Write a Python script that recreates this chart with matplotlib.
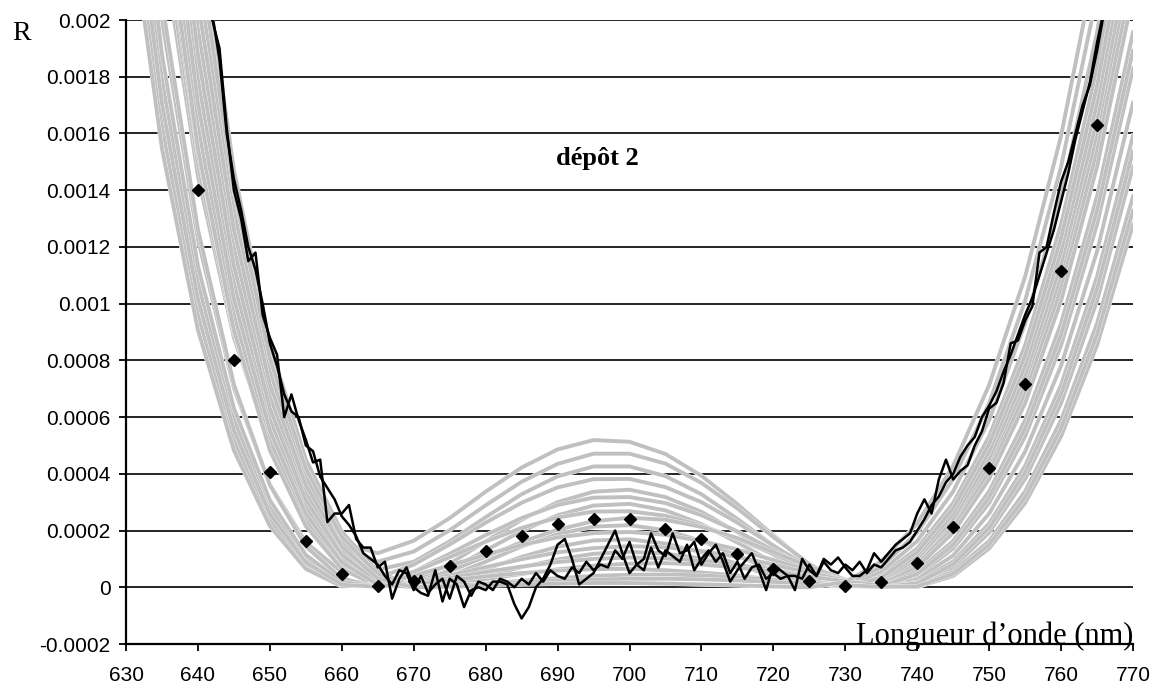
import matplotlib
matplotlib.use('Agg')
import matplotlib.pyplot as plt
import matplotlib.patheffects as pe
import numpy as np

# values of R are given in units of 1e-4
SCALE = 1e-4

# grey family of simulated curves, sampled every 5 nm
wl_grey = [630, 635, 640, 645, 650, 655, 660, 665, 670, 675, 680, 685, 690, 695, 700,
           705, 710, 715, 720, 725, 730, 735, 740, 745, 750, 755, 760, 765, 770]

grey_01 = [34.6, 22.8, 14.5, 8.8, 5.08, 2.8, 1.58, 1.2, 1.64, 2.44, 3.37, 4.22, 4.86, 5.19, 5.13,
           4.70, 3.93, 2.93, 1.83, 0.80, 0.07, 0.18, 0.91, 2.25, 4.28, 7.13, 10.95, 15.92, 22.28]
grey_02 = [35.7, 23.5, 14.9, 8.97, 5.08, 2.68, 1.36, 0.90, 1.26, 2.01, 2.89, 3.72, 4.35, 4.71, 4.71,
           4.36, 3.68, 2.78, 1.77, 0.82, 0.10, 0.14, 0.81, 2.09, 4.05, 6.81, 10.52, 15.37, 21.58]
grey_03 = [36.8, 24.3, 15.3, 9.16, 5.1, 2.56, 1.15, 0.62, 0.90, 1.62, 2.47, 3.28, 3.91, 4.26, 4.26,
           3.92, 3.28, 2.41, 1.47, 0.60, 0.02, 0.22, 1.01, 2.42, 4.53, 7.47, 11.39, 16.49, 23.0]
grey_04 = [31.0, 20.0, 12.26, 7.02, 3.62, 1.58, 0.54, 0.33, 0.80, 1.51, 2.28, 2.98, 3.52, 3.81, 3.82,
           3.53, 3.0, 2.28, 1.47, 0.70, 0.11, 0.10, 0.71, 1.93, 3.82, 6.49, 10.1, 14.83, 20.89]
grey_05 = [39.28, 25.85, 16.25, 9.6, 5.17, 2.37, 0.76, 0.06, 0.20, 0.83, 1.62, 2.38, 3.0, 3.37, 3.44,
           3.18, 2.66, 1.94, 1.14, 0.43, 0.0, 0.28, 1.12, 2.6, 4.78, 7.81, 11.84, 17.08, 23.74]
grey_06 = [28.19, 17.91, 10.73, 5.91, 2.82, 1.0, 0.14, 0.09, 0.55, 1.18, 1.84, 2.44, 2.90, 3.16, 3.18,
           2.97, 2.54, 1.97, 1.31, 0.67, 0.16, 0.04, 0.55, 1.63, 3.38, 5.89, 9.3, 13.78, 19.56]
grey_07 = [42.51, 28.19, 17.91, 10.73, 5.91, 2.82, 1.0, 0.14, 0.10, 0.62, 1.30, 1.98, 2.54, 2.88, 2.94,
           2.71, 2.23, 1.58, 0.88, 0.27, 0.01, 0.40, 1.37, 2.97, 5.32, 8.53, 12.79, 18.29, 25.27]
grey_08 = [25.85, 16.25, 9.6, 5.17, 2.37, 0.76, 0.06, 0.13, 0.54, 1.06, 1.61, 2.09, 2.46, 2.67, 2.68,
           2.52, 2.18, 1.71, 1.17, 0.64, 0.20, 0.01, 0.40, 1.37, 2.97, 5.32, 8.53, 12.79, 18.29]
grey_09 = [37.73, 24.73, 15.47, 9.07, 4.83, 2.16, 0.65, 0.03, 0.16, 0.57, 1.08, 1.59, 2.03, 2.33, 2.45,
           2.38, 2.13, 1.73, 1.24, 0.73, 0.27, 0.0, 0.28, 1.12, 2.6, 4.78, 7.81, 11.84, 17.08]
grey_10 = [45.95, 30.7, 19.69, 11.96, 6.72, 3.32, 1.28, 0.24, 0.03, 0.39, 0.90, 1.44, 1.87, 2.14, 2.19,
           2.01, 1.63, 1.12, 0.58, 0.14, 0.04, 0.55, 1.63, 3.38, 5.89, 9.3, 13.78, 19.56, 26.87]
grey_11 = [24.73, 15.47, 9.07, 4.83, 2.16, 0.65, 0.03, 0.11, 0.41, 0.77, 1.15, 1.49, 1.76, 1.91, 1.95,
           1.85, 1.63, 1.33, 0.96, 0.58, 0.25, 0.02, 0.18, 0.91, 2.25, 4.28, 7.13, 10.95, 15.92]
grey_12 = [49.6, 33.38, 21.6, 13.28, 7.6, 3.88, 1.6, 0.38, 0.0, 0.24, 0.64, 1.07, 1.43, 1.65, 1.69,
           1.54, 1.23, 0.82, 0.39, 0.06, 0.10, 0.71, 1.93, 3.82, 6.49, 10.1, 14.83, 20.89, 28.54]
grey_13 = [32.02, 20.63, 12.61, 7.15, 3.6, 1.44, 0.31, 0.01, 0.17, 0.42, 0.71, 0.99, 1.23, 1.38, 1.45,
           1.41, 1.28, 1.07, 0.80, 0.51, 0.24, 0.04, 0.10, 0.71, 1.93, 3.82, 6.49, 10.1, 14.83]
grey_14 = [53.47, 36.24, 23.65, 14.71, 8.56, 4.5, 1.96, 0.55, 0.02, 0.12, 0.40, 0.71, 0.98, 1.18, 1.25,
           1.19, 1.01, 0.74, 0.43, 0.15, 0.0, 0.34, 1.24, 2.78, 5.05, 8.17, 12.31, 17.67, 24.5]
grey_15 = [29.43, 18.78, 11.33, 6.31, 3.07, 1.14, 0.19, 0.02, 0.15, 0.33, 0.54, 0.73, 0.89, 1.0, 1.05,
           1.02, 0.93, 0.79, 0.60, 0.39, 0.20, 0.05, 0.04, 0.55, 1.63, 3.38, 5.89, 9.3, 13.78]
grey_16 = [44.2, 29.43, 18.78, 11.33, 6.31, 3.07, 1.14, 0.19, 0.01, 0.13, 0.29, 0.47, 0.63, 0.76, 0.83,
           0.85, 0.80, 0.70, 0.55, 0.38, 0.21, 0.06, 0.01, 0.40, 1.37, 2.97, 5.32, 8.53, 12.79]
grey_17 = [27.0, 17.06, 10.16, 5.53, 2.59, 0.88, 0.09, 0.02, 0.12, 0.25, 0.38, 0.50, 0.59, 0.64, 0.65,
           0.60, 0.52, 0.41, 0.27, 0.14, 0.04, 0.03, 0.47, 1.5, 3.17, 5.6, 8.91, 13.28, 18.92]
grey_18 = [51.5, 34.79, 22.61, 13.98, 8.07, 4.18, 1.78, 0.46, 0.0, 0.04, 0.13, 0.23, 0.32, 0.40, 0.44,
           0.45, 0.42, 0.35, 0.27, 0.17, 0.08, 0.01, 0.14, 0.81, 2.09, 4.05, 6.81, 10.52, 15.37]
grey_19 = [40.87, 27.0, 17.06, 10.16, 5.53, 2.59, 0.88, 0.09, 0.01, 0.06, 0.11, 0.18, 0.23, 0.27, 0.30,
           0.30, 0.28, 0.24, 0.19, 0.13, 0.07, 0.02, 0.03, 0.47, 1.5, 3.17, 5.6, 8.91, 13.28]
grey_20 = [47.75, 32.02, 20.63, 12.61, 7.15, 3.6, 1.44, 0.31, 0.0, 0.02, 0.06, 0.10, 0.13, 0.15, 0.15,
           0.13, 0.10, 0.07, 0.03, 0.0, 0.18, 0.91, 2.25, 4.28, 7.13, 10.95, 15.92, 22.28, 30.29]

grey_curves = [grey_01, grey_02, grey_03, grey_04, grey_05, grey_06, grey_07, grey_08, grey_09, grey_10,
               grey_11, grey_12, grey_13, grey_14, grey_15, grey_16, grey_17, grey_18, grey_19, grey_20]

# two measured spectra, 1 nm step
wl_meas = list(range(641, 768))
meas_a = [21.5, 20.0, 19.0, 16.2, 14.0, 13.0, 11.5, 11.8, 9.6, 8.8,
          8.2, 6.0, 6.8, 5.9, 5.2, 4.4, 4.5, 2.3, 2.6, 2.6,
          2.9, 1.7, 1.4, 1.4, 0.7, 0.9, -0.4, 0.3, 0.7, 0.0,
          -0.2, -0.3, 0.6, -0.5, 0.3, 0.1, -0.7, -0.1, 0.0, -0.1,
          0.2, 0.2, 0.1, -0.6, -1.1, -0.7, 0.0, 0.3, 0.8, 1.5,
          1.7, 1.0, 0.1, 0.3, 0.5, 1.0, 1.5, 2.0, 1.2, 0.5,
          0.8, 1.0, 1.9, 1.3, 1.1, 1.9, 1.2, 1.3, 1.6, 0.8,
          1.2, 1.5, 0.9, 0.2, 0.6, 0.9, 1.2, 0.6, -0.1, 0.8,
          0.6, 0.4, -0.1, 1.0, 0.6, 0.4, 1.0, 0.8, 1.05, 0.7,
          0.4, 0.4, 0.6, 1.2, 0.9, 1.2, 1.5, 1.7, 1.9, 2.6,
          3.1, 2.6, 3.8, 4.5, 3.8, 4.1, 4.3, 5.0, 5.5, 6.3,
          6.5, 7.2, 8.6, 8.7, 9.4, 9.9, 11.8, 12.0, 13.2, 14.3,
          15.0, 16.0, 17.0, 17.7, 18.9, 20.3, 21.5]
meas_b = [21.0, 20.2, 18.6, 16.0, 14.4, 13.3, 12.0, 11.2, 10.0, 8.6,
          7.8, 6.8, 6.2, 6.0, 5.0, 4.8, 3.9, 3.5, 3.1, 2.5,
          2.2, 1.8, 1.2, 1.0, 0.8, 0.4, 0.1, 0.6, 0.5, -0.1,
          0.4, -0.2, 0.1, 0.3, -0.4, 0.4, 0.2, -0.3, 0.2, 0.1,
          -0.1, 0.3, 0.2, 0.0, 0.3, 0.1, 0.5, 0.2, 0.6, 0.4,
          0.3, 0.7, 0.5, 0.9, 0.6, 0.8, 0.7, 1.3, 1.0, 1.6,
          0.8, 0.6, 1.4, 0.7, 1.3, 1.1, 0.9, 1.5, 0.6, 1.0,
          1.3, 0.9, 1.2, 0.5, 0.9, 0.3, 0.7, 0.8, 0.3, 0.5,
          0.3, 0.4, 0.4, 0.3, 0.8, 0.4, 0.9, 0.6, 0.5, 0.8,
          0.6, 0.9, 0.5, 0.8, 0.7, 1.0, 1.3, 1.4, 1.6, 2.0,
          2.4, 2.9, 3.2, 3.7, 4.0, 4.6, 5.0, 5.3, 6.0, 6.4,
          6.9, 7.6, 8.2, 8.9, 9.6, 10.2, 11.0, 11.8, 12.6, 13.6,
          14.6, 15.8, 16.8, 17.8, 19.2, 20.4, 21.8]

# diamond markers
wl_diam = [640, 645, 650, 655, 660, 665, 670, 675, 680, 685, 690, 695, 700,
           705, 710, 715, 720, 725, 730, 735, 740, 745, 750, 755, 760, 765]
r_diam = [14.0, 8.0, 4.05, 1.63, 0.46, 0.05, 0.22, 0.75, 1.28, 1.81, 2.22, 2.4, 2.4,
          2.07, 1.69, 1.16, 0.63, 0.22, 0.05, 0.19, 0.87, 2.13, 4.22, 7.16, 11.16, 16.3]

x_ticks = [630, 640, 650, 660, 670, 680, 690, 700, 710, 720, 730, 740, 750, 760, 770]
y_ticks = [-0.0002, 0, 0.0002, 0.0004, 0.0006, 0.0008, 0.001, 0.0012, 0.0014, 0.0016, 0.0018, 0.002]
y_labels = ['-0.0002', '0', '0.0002', '0.0004', '0.0006', '0.0008', '0.001',
            '0.0012', '0.0014', '0.0016', '0.0018', '0.002']

sans = 'Liberation Sans'
serif = 'Liberation Serif'

fig = plt.figure(figsize=(11.6, 6.91), dpi=100)
ax = fig.add_axes([126/1160, 47/691, 1007/1160, 624/691])

halo = [pe.Stroke(linewidth=3.2, foreground='white'), pe.Normal()]
for curve in grey_curves:
    ax.plot(wl_grey, np.array(curve) * SCALE, color='#c0c0c0', lw=2.8,
            path_effects=halo, zorder=2)

ax.plot(wl_meas, np.array(meas_b) * SCALE, color='black', lw=1.8, zorder=3)
ax.plot(wl_meas, np.array(meas_a) * SCALE, color='black', lw=1.8, zorder=3)
ax.plot(wl_diam, np.array(r_diam) * SCALE, linestyle='none', marker='D',
        markersize=6.5, color='black', zorder=4)

ax.set_xlim(630, 770)
ax.set_ylim(-0.0002, 0.002)
ax.set_xticks(x_ticks)
ax.set_xticklabels([str(v) for v in x_ticks], fontfamily=sans, fontsize=15)
ax.set_yticks(y_ticks)
ax.set_yticklabels(y_labels, fontfamily=sans, fontsize=15)

ax.yaxis.grid(True, color='black', lw=1.2)
ax.set_axisbelow(True)
for s in ['top', 'right']:
    ax.spines[s].set_visible(False)
for s in ['left', 'bottom']:
    ax.spines[s].set_linewidth(1.6)
ax.tick_params(axis='x', direction='out', length=5, width=1.3, pad=11)
ax.tick_params(axis='y', direction='out', length=5, width=1.3, pad=6)

ax.text(770, -0.0002, 'Longueur d\u2019onde (nm)', ha='right', va='baseline',
        fontfamily=serif, fontsize=22, zorder=5)
ax.text(695.5, 0.00151, 'dépôt 2', ha='center', va='center',
        fontfamily=serif, fontsize=19, fontweight='bold')
fig.text(22/1160, 1 - 33/691, 'R', ha='center', va='center',
         fontfamily=serif, fontsize=20)

fig.savefig('out.png', dpi=100)
